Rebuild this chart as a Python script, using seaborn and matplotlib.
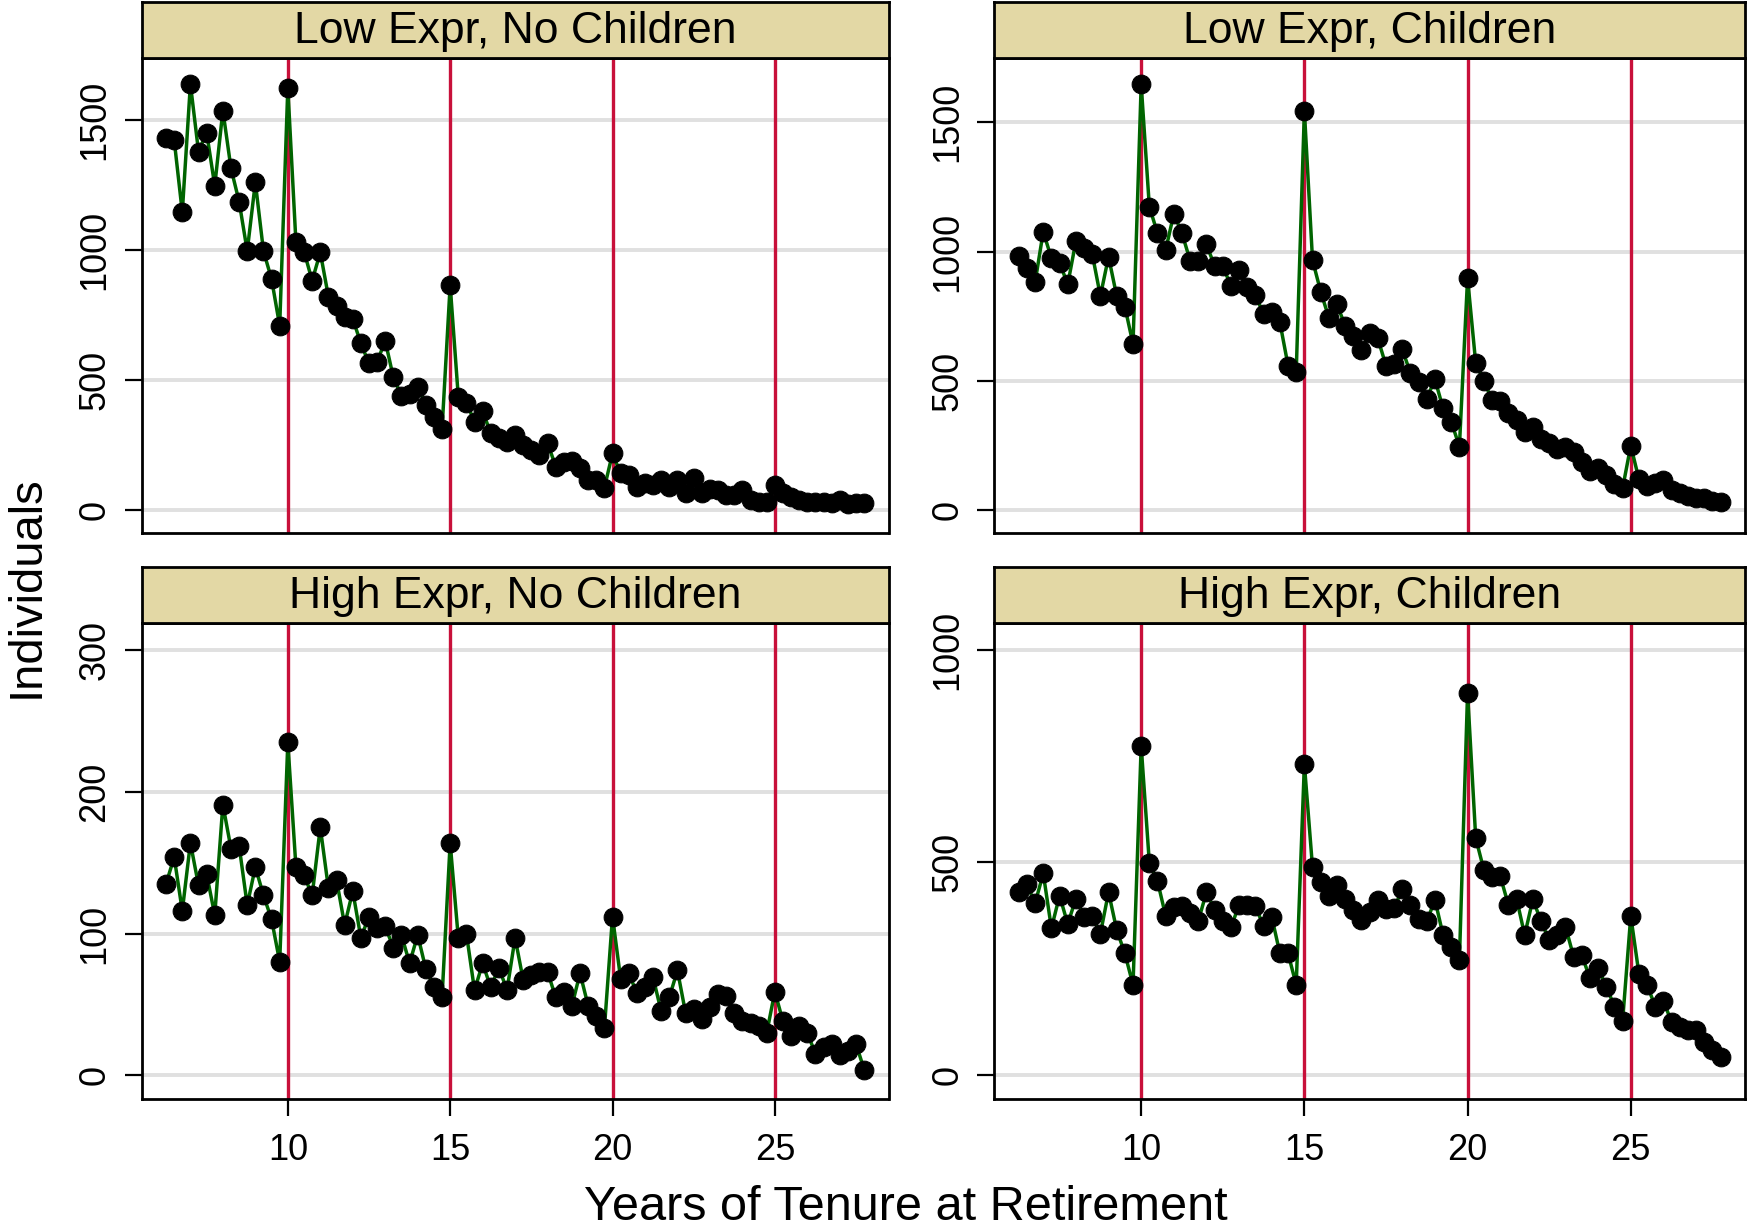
import numpy as np
import pandas as pd
import matplotlib
matplotlib.use("Agg")
import matplotlib.pyplot as plt
import seaborn as sns

# ---------------- data ----------------
tenure = [6.25 + 0.25 * i for i in range(87)]

low_no_children = [
    1429, 1423, 1145, 1638, 1378, 1451, 1247, 1536, 1314, 1186, 996, 1260, 996, 888, 708, 1624,
    1030, 994, 882, 991, 821, 786, 741, 736, 641, 564, 570, 651, 510, 440, 445, 472, 404, 359, 311, 865,
    436, 413, 340, 381, 295, 279, 263, 288, 250, 231, 212, 259, 167, 186, 188, 163, 115, 115, 86, 218,
    141, 135, 90, 103, 96, 115, 90, 115, 64, 122, 64, 83, 77, 58, 58, 77, 38, 32, 32, 98,
    64, 51, 38, 32, 32, 32, 26, 38, 23, 26, 26,
]
low_children = [
    984, 935, 881, 1077, 974, 957, 873, 1041, 1013, 991, 828, 980, 828, 787, 642, 1647,
    1174, 1071, 1006, 1146, 1071, 965, 965, 1028, 944, 943, 868, 929, 862, 832, 758, 768, 726, 559, 533, 1545,
    967, 845, 744, 796, 712, 673, 619, 686, 664, 559, 564, 622, 529, 497, 430, 506, 393, 342, 245, 897,
    568, 499, 426, 423, 374, 348, 301, 322, 273, 258, 235, 243, 226, 187, 152, 161, 135, 101, 84, 249,
    119, 93, 103, 116, 77, 65, 54, 48, 48, 36, 32,
]
high_no_children = [
    135, 154, 116, 164, 134, 142, 113, 191, 160, 162, 120, 147, 127, 110, 80, 235,
    147, 141, 127, 175, 132, 138, 106, 130, 97, 112, 104, 105, 90, 99, 79, 99, 75, 62, 55, 164,
    97, 100, 60, 79, 62, 76, 60, 97, 67, 71, 73, 73, 55, 59, 49, 72, 49, 42, 33, 112,
    68, 72, 58, 62, 69, 45, 55, 74, 44, 47, 40, 48, 57, 56, 44, 38, 37, 35, 30, 59,
    38, 28, 35, 30, 15, 20, 22, 14, 17, 22, 4,
]
high_children = [
    430, 448, 404, 474, 345, 422, 355, 415, 372, 374, 332, 430, 341, 286, 212, 774,
    499, 456, 374, 396, 397, 380, 362, 430, 388, 361, 347, 400, 400, 397, 350, 372, 286, 286, 212, 731,
    488, 455, 421, 447, 415, 388, 365, 384, 412, 390, 392, 437, 400, 368, 361, 412, 329, 302, 270, 899,
    557, 482, 466, 468, 400, 415, 329, 413, 362, 317, 329, 349, 278, 282, 227, 251, 208, 161, 127, 374,
    238, 212, 161, 174, 125, 114, 106, 106, 78, 59, 43,
]

panel_titles = ["Low Expr, No Children", "Low Expr, Children",
                "High Expr, No Children", "High Expr, Children"]
panel_values = [low_no_children, low_children, high_no_children, high_children]
panel_yticks = [[0, 500, 1000, 1500], [0, 500, 1000, 1500],
                [0, 100, 200, 300], [0, 500, 1000]]
panel_ylims = [(-88, 1738), (-89, 1749), (-17, 319), (-57, 1062)]
reference_years = [10, 15, 20, 25]
x_ticks = [10, 15, 20, 25]

df = pd.DataFrame({
    "tenure": np.tile(tenure, 4),
    "count": np.concatenate([np.asarray(v, dtype=float) for v in panel_values]),
    "panel": np.repeat(panel_titles, len(tenure)),
})

# ---------------- style ----------------
sns.set_style("white")
plt.rcParams["font.family"] = ["Liberation Sans", "DejaVu Sans"]
plt.rcParams["text.color"] = "black"
plt.rcParams["axes.labelcolor"] = "black"
plt.rcParams["xtick.color"] = "black"
plt.rcParams["ytick.color"] = "black"

W, H = 1748, 1232
fig = plt.figure(figsize=(W / 100, H / 100), dpi=100)

col_x = [(141.7, 888.5), (994.3, 1745.0)]
row_y = [(2.0, 58.0, 533.0), (567.0, 623.3, 1099.3)]  # strip top, strip bottom/axes top, axes bottom

STRIP = "#E3D8A5"
RED = "#C8103A"
GREEN = "#006400"

for k, title in enumerate(panel_titles):
    r, c = divmod(k, 2)
    x0, x1 = col_x[c]
    st, at, ab = row_y[r]
    ax = fig.add_axes([x0 / W, 1 - ab / H, (x1 - x0) / W, (ab - at) / H])
    sax = fig.add_axes([x0 / W, 1 - at / H, (x1 - x0) / W, (at - st) / H])

    sub = df[df["panel"] == title]
    for yr in reference_years:
        ax.axvline(yr, color=RED, lw=2.4, zorder=1.5)
    sns.lineplot(data=sub, x="tenure", y="count", ax=ax, color=GREEN, lw=2.5,
                 marker="o", markersize=13.5, markerfacecolor="black",
                 markeredgecolor="black", zorder=3, estimator=None)

    ax.set_xlim(5.5, 28.5)
    ax.set_ylim(*panel_ylims[k])
    ax.set_yticks(panel_yticks[k])
    ax.set_xticks(x_ticks)
    ax.yaxis.grid(True, color="#E0E0E0", lw=2.8)
    ax.xaxis.grid(False)
    ax.set_axisbelow(True)
    ax.set_xlabel("")
    ax.set_ylabel("")
    for sp in ax.spines.values():
        sp.set_visible(True)
        sp.set_color("black")
        sp.set_linewidth(2.0)
    ax.tick_params(axis="y", direction="out", length=12, width=1.6, pad=9,
                   labelsize=26, labelrotation=90, left=True, colors="black")
    for lab in ax.get_yticklabels():
        lab.set_va("center")
    if r == 1:
        ax.tick_params(axis="x", direction="out", length=12, width=1.6, pad=12,
                       labelsize=26, bottom=True, colors="black")
    else:
        ax.tick_params(axis="x", bottom=False, labelbottom=False)

    sax.set_facecolor(STRIP)
    sax.set_xticks([])
    sax.set_yticks([])
    for sp in sax.spines.values():
        sp.set_visible(True)
        sp.set_color("black")
        sp.set_linewidth(2.0)
    sax.text(0.5, 0.47, title, ha="center", va="center", fontsize=32,
             color="black", transform=sax.transAxes)

fig.text(906 / W, 1 - 1208 / H, "Years of Tenure at Retirement", ha="center",
         va="center", fontsize=35, color="black")
fig.text(27 / W, 1 - 587 / H, "Individuals", ha="center", va="center",
         rotation=90, fontsize=34, color="black")

fig.savefig("out.png", dpi=100, facecolor="white")
